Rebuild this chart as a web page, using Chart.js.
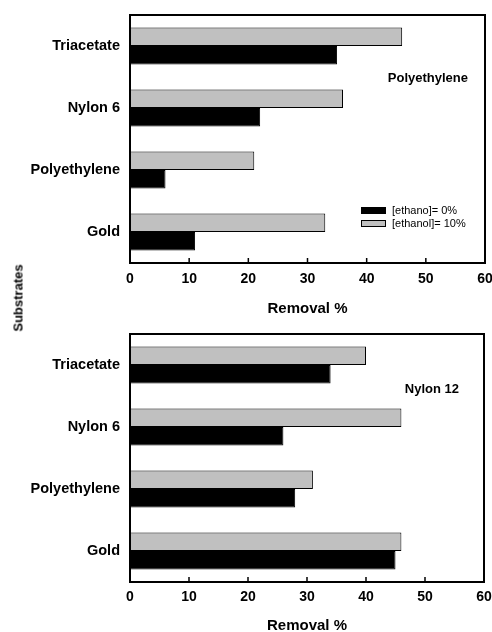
<!DOCTYPE html>
<html>
<head>
<meta charset="utf-8">
<title>Removal % by substrate</title>
<script src="https://cdn.jsdelivr.net/npm/chart.js@4.4.0/dist/chart.umd.min.js"></script>
<style>
    body { margin: 0; background: #fff; }
    #wrap { position: relative; width: 492px; height: 632px; overflow: hidden; }
    canvas { position: absolute; left: 0; }
    #top-chart { top: 0; }
    #bottom-chart { top: 310px; }
    #y-title {
        position: absolute; left: 18px; top: 298px;
        transform: translate(-50%, -50%) rotate(-90deg);
        font: bold 13px 'Liberation Sans', Arial, sans-serif;
        white-space: nowrap; color: #000;
    }
</style>
</head>
<body>
<div id="wrap">
    <canvas id="top-chart" width="492" height="320"></canvas>
    <canvas id="bottom-chart" width="492" height="322"></canvas>
    <div id="y-title">Substrates</div>
</div>
<script>
// Data
const categories = ['Triacetate', 'Nylon 6', 'Polyethylene', 'Gold'];
const xTicks = [0, 10, 20, 30, 40, 50, 60];
const seriesLabels = ['[ethano]= 0%', '[ethanol]= 10%'];

// Polyethylene panel
const peEthanol0 = [35, 22, 6, 11];
const peEthanol10 = [46, 36, 21, 33];

// Nylon 12 panel
const nyEthanol0 = [34, 26, 28, 45];
const nyEthanol10 = [40, 46, 31, 46];

const FONT = "'Liberation Sans', Arial, sans-serif";

// Frame round the plot area + short inward ticks on the x axis
const framePlugin = {
    id: 'frame',
    afterDatasetsDraw(chart) {
        const { ctx, chartArea: a, scales: { x } } = chart;
        ctx.save();
        ctx.strokeStyle = '#000';
        ctx.lineWidth = 2;
        ctx.strokeRect(a.left, a.top, a.right - a.left, a.bottom - a.top);
        ctx.lineWidth = 1.5;
        xTicks.forEach(v => {
            if (v === x.min || v === x.max) return;
            const px = x.getPixelForValue(v);
            ctx.beginPath();
            ctx.moveTo(px, a.bottom);
            ctx.lineTo(px, a.bottom - 5);
            ctx.stroke();
        });
        ctx.restore();
    }
};

// Panel name and (optional) legend drawn inside the plot
const notePlugin = {
    id: 'note',
    afterDraw(chart, args, o) {
        const ctx = chart.ctx;
        ctx.save();
        ctx.fillStyle = '#000';
        ctx.font = `bold 13px ${FONT}`;
        ctx.textAlign = 'right';
        ctx.textBaseline = 'middle';
        ctx.fillText(o.text, o.x, o.y);

        if (o.legend) {
            const sets = chart.data.datasets.slice().reverse();
            ctx.font = `11px ${FONT}`;
            ctx.textAlign = 'left';
            sets.forEach((ds, i) => {
                const y = o.legend.y + i * 13;
                ctx.fillStyle = ds.backgroundColor;
                ctx.fillRect(o.legend.x, y - 3, 25, 6);
                ctx.strokeStyle = '#000';
                ctx.lineWidth = 1;
                ctx.strokeRect(o.legend.x + 0.5, y - 2.5, 24, 6);
                ctx.fillStyle = '#000';
                ctx.fillText(ds.label, o.legend.x + 31, y + 0.5);
            });
        }
        ctx.restore();
    }
};

function noPadding(s) {
    s.paddingLeft = 0;
    s.paddingRight = 0;
    s.paddingTop = 0;
    s.paddingBottom = 0;
}

function makeChart(id, zero, ten, cfg) {
    const ctx = document.getElementById(id).getContext('2d');
    return new Chart(ctx, {
        type: 'bar',
        data: {
            labels: categories,
            datasets: [{
                label: seriesLabels[1],
                data: ten,
                backgroundColor: '#c0c0c0',
                borderColor: '#000',
                borderWidth: 1
            }, {
                label: seriesLabels[0],
                data: zero,
                backgroundColor: '#000',
                borderColor: '#000',
                borderWidth: 1
            }]
        },
        options: {
            indexAxis: 'y',
            responsive: false,
            animation: false,
            devicePixelRatio: 1,
            categoryPercentage: 0.6,
            barPercentage: 1.0,
            layout: { padding: { top: cfg.padTop, right: cfg.padRight, left: 0, bottom: 0 } },
            scales: {
                x: {
                    type: 'linear',
                    min: 0,
                    max: 60,
                    afterBuildTicks(s) { s.ticks = xTicks.map(v => ({ value: v })); },
                    grid: { display: false, drawTicks: false },
                    border: { display: false },
                    ticks: {
                        color: '#000',
                        padding: cfg.tickPad,
                        maxRotation: 0,
                        autoSkip: false,
                        font: { family: FONT, weight: 'bold', size: 14 }
                    },
                    title: {
                        display: true,
                        text: 'Removal %',
                        color: '#000',
                        font: { family: FONT, weight: 'bold', size: 15, lineHeight: 1 },
                        padding: { top: 0, bottom: cfg.titlePad }
                    },
                    afterFit(s) { s.height = cfg.xHeight; noPadding(s); }
                },
                y: {
                    type: 'category',
                    grid: { display: false, drawTicks: false },
                    border: { display: false },
                    ticks: {
                        color: '#000',
                        padding: 10,
                        font: { family: FONT, weight: 'bold', size: 14.5 }
                    },
                    afterFit(s) { s.width = 130; noPadding(s); }
                }
            },
            plugins: {
                legend: { display: false },
                tooltip: { enabled: false },
                note: cfg.note
            }
        },
        plugins: [framePlugin, notePlugin]
    });
}

document.addEventListener('DOMContentLoaded', () => {
    makeChart('top-chart', peEthanol0, peEthanol10, {
        padTop: 15, padRight: 7, xHeight: 57, tickPad: 8, titlePad: 4,
        note: { text: 'Polyethylene', x: 468, y: 78, legend: { x: 361, y: 210 } }
    });
    makeChart('bottom-chart', nyEthanol0, nyEthanol10, {
        padTop: 24, padRight: 8, xHeight: 50, tickPad: 7, titlePad: -1,
        note: { text: 'Nylon 12', x: 459, y: 79 }
    });
});
</script>
</body>
</html>
